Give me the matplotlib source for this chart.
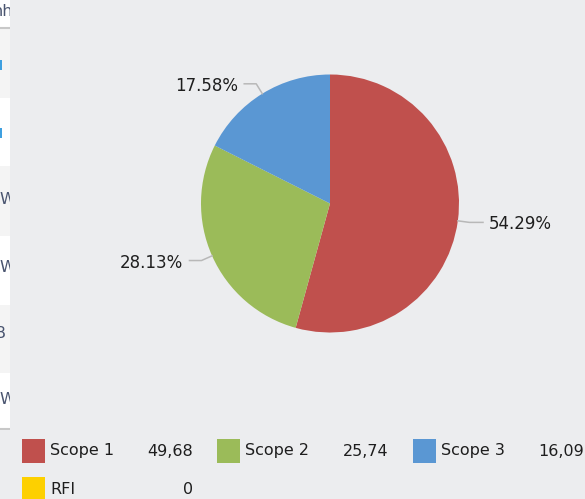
import numpy as np
import matplotlib
matplotlib.use("Agg")
import matplotlib.pyplot as plt
from matplotlib.patches import Rectangle

# chart data
names = ["Scope 1", "Scope 2", "Scope 3", "RFI"]
values = [49.68, 25.74, 16.09, 0]
colors = ["#c0504d", "#9bbb59", "#5a97d3", "#fdd000"]

W, H = 585, 499
bg = "#ecedef"
txt = "#1e1e1e"

fig = plt.figure(figsize=(W / 100, H / 100), dpi=100, facecolor=bg)
ax = fig.add_axes([0, 0, 1, 1])
ax.set_facecolor(bg)

# pie (only non-zero slices are drawn)
cx, cy, r = 330, H - 203.5, 129
pie_vals = [v for v in values if v > 0]
pie_cols = [c for v, c in zip(values, colors) if v > 0]
wedges, _ = ax.pie(pie_vals, colors=pie_cols, startangle=90, counterclock=False,
                   center=(cx, cy), radius=r, frame=True,
                   wedgeprops=dict(linewidth=0, antialiased=True))

total = sum(pie_vals)
for w, v in zip(wedges, pie_vals):
    mid = np.deg2rad((w.theta1 + w.theta2) / 2)
    c, s = np.cos(mid), np.sin(mid)
    p0 = (cx + r * c, cy + r * s)
    p1 = (cx + r * 1.09 * c, cy + r * 1.09 * s)
    side = 1 if c >= 0 else -1
    p2 = (p1[0] + side * 12, p1[1])
    if side > 0:
        p2 = (max(p2[0], cx + r + 24), p1[1])
    ax.plot([p0[0], p1[0], p2[0]], [p0[1], p1[1], p2[1]], color="#b8b8b8", lw=1.1)
    ax.text(p2[0] + side * 6, p2[1] - 2, f"{v / total * 100:.2f}%",
            ha="left" if side > 0 else "right", va="center",
            fontsize=12, color=txt)

# legend
col_x = [22, 217, 413]
row_y = [H - 451, H - 489]
for i, (n, v, col) in enumerate(zip(names, values, colors)):
    x = col_x[i % 3]
    y = row_y[i // 3]
    ax.add_patch(Rectangle((x, y - 12), 23, 24, facecolor=col, edgecolor="none"))
    ax.text(x + 28, y, n, ha="left", va="center", fontsize=11.5, color=txt)
    label = "0" if v == 0 else f"{v:.2f}".replace(".", ",")
    ax.text(x + 171, y, label, ha="right", va="center", fontsize=11.5, color=txt)

ax.set_xlim(0, W)
ax.set_ylim(0, H)
ax.set_aspect("auto")
ax.axis("off")

# cut-off table strip on the left
sx = fig.add_axes([0, (H - 430) / H, 10 / W, 430 / H])
sx.set_xlim(0, 10)
sx.set_ylim(430, 0)
sx.axis("off")
rows = [0, 28, 98, 166, 236, 305, 373, 430]
for k in range(len(rows) - 1):
    fc = "white" if k % 2 == 0 else "#f4f4f4"
    sx.add_patch(Rectangle((0, rows[k]), 10, rows[k + 1] - rows[k], facecolor=fc, edgecolor="none"))
sx.plot([0, 10], [28, 28], color="#c8c8c8", lw=1.5)
sx.plot([0, 10], [429, 429], color="#c8c8c8", lw=1.5)
for yy in [65, 133]:
    sx.add_patch(Rectangle((0, yy - 5), 2, 10, facecolor="#3fa0e0", edgecolor="none"))
for yy, ch, xx, ha in [(12, "nh", 13, "right"), (200, "W", -1, "left"),
                       (268, "W", -1, "left"), (400, "W", -1, "left"),
                       (333, "B", 5, "right")]:
    t = sx.text(xx, yy, ch, ha=ha, va="center", fontsize=11.5, color="#4a5570")
    t.set_clip_on(True)

fig.savefig("out.png", dpi=100, facecolor=bg)
